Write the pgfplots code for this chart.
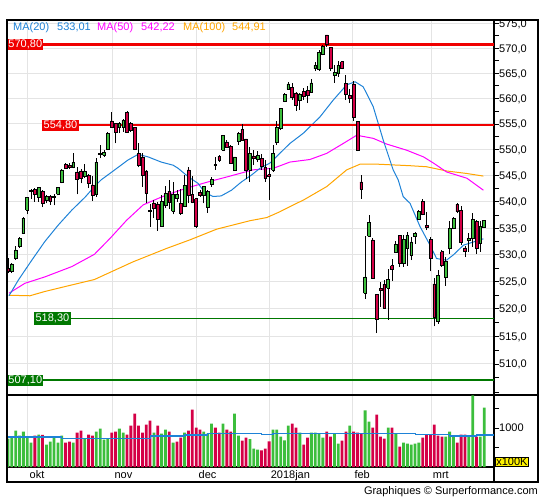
\documentclass[border=0pt]{standalone}
\usepackage{pgfplots}
\pgfplotsset{compat=1.18}
\usepackage{pgfplotstable}
\usepackage{fontspec}
\setmainfont{Liberation Sans}

\definecolor{cgreen}{RGB}{60,190,60}
\definecolor{cred}{RGB}{212,0,70}
\definecolor{mablue}{RGB}{30,130,215}
\definecolor{mamag}{RGB}{255,0,255}
\definecolor{maorg}{RGB}{255,165,0}
\definecolor{gridc}{RGB}{228,228,228}
\definecolor{lvred}{RGB}{240,0,0}
\definecolor{lvgreen}{RGB}{0,120,0}

% i open high low close volume(x100K) volumecolour(1 green, 0 red)
\pgfplotstableread{
i o h l c v vc
0 527.5 529.5 526.6 526.9 727 1
1 526.9 528.5 526.6 528.3 786 1
2 529.3 531.7 529.0 530.9 932 1
3 531.5 533.3 531.3 533.1 803 1
4 534.0 537.1 533.9 536.9 906 1
5 538.4 541.0 537.6 540.8 769 1
6 541.9 542.4 540.6 542.2 624 1
7 542.4 542.6 540.0 541.5 803 0
8 540.8 542.9 540.0 542.7 829 1
9 542.0 542.2 539.0 539.7 821 0
10 540.3 541.2 539.7 541.0 573 1
11 541.0 541.2 539.4 540.0 650 1
12 540.8 541.5 539.3 541.0 761 1
13 541.4 542.9 541.2 542.7 624 1
14 543.7 546.2 543.5 546.1 803 1
15 547.2 547.4 546.3 546.4 624 0
16 546.9 547.4 546.3 546.5 650 0
17 546.5 549.4 546.4 547.5 624 1
18 545.7 546.6 541.4 544.2 880 0
19 545.9 546.2 543.5 544.4 932 0
20 544.9 547.2 544.5 545.8 727 1
21 545.1 545.4 542.6 543.5 829 0
22 543.2 545.0 540.2 541.3 803 0
23 541.4 548.3 541.0 547.6 906 1
24 549.0 551.0 548.3 549.2 983 1
25 548.9 550.0 548.6 549.4 701 1
26 550.1 553.5 549.9 553.2 727 1
27 555.6 557.3 554.2 554.3 880 0
28 555.1 555.2 551.2 553.4 906 0
29 554.4 555.4 553.2 555.1 983 1
30 554.4 555.9 553.4 555.7 880 1
31 557.3 557.6 553.3 553.4 829 0
32 555.1 555.4 553.4 553.8 1060 0
33 554.4 554.5 549.9 550.1 1368 0
34 549.3 551.2 546.6 547.0 1060 0
35 548.6 549.3 542.9 545.1 880 0
36 545.9 546.0 539.8 541.6 1085 0
37 538.4 539.6 535.3 538.1 1188 0
38 539.8 540.3 536.9 538.8 880 1
39 539.6 540.0 534.5 536.6 1060 0
40 535.4 541.2 535.3 540.0 855 1
41 539.4 543.1 538.8 541.6 957 1
42 542.0 544.1 538.6 539.9 906 0
43 538.2 543.8 537.6 541.4 624 1
44 540.6 542.2 540.0 541.4 650 0
45 539.7 542.5 537.5 537.8 752 0
46 539.1 545.1 539.0 543.1 880 1
47 546.1 546.6 539.7 541.3 932 0
48 541.4 545.0 539.7 539.9 1470 0
49 540.6 540.7 535.0 535.3 1009 0
50 541.8 542.2 541.0 541.3 957 0
51 541.3 543.1 539.7 542.9 906 1
52 539.0 542.2 537.9 541.9 855 1
53 543.3 544.8 542.9 544.3 1111 1
54 546.9 548.6 546.1 547.1 1009 0
55 548.7 549.0 547.7 548.0 880 0
56 549.9 552.9 549.7 552.8 1111 1
57 551.5 551.9 550.3 550.5 957 0
58 550.7 551.0 547.4 547.4 906 0
59 546.1 548.6 545.9 548.6 1368 1
60 551.6 553.5 551.0 553.2 803 1
61 553.9 555.0 551.9 551.9 675 0
62 552.1 552.1 544.3 546.1 752 0
63 546.1 550.6 543.8 549.3 718 1
64 548.8 550.0 547.0 548.3 470 1
65 548.1 549.7 547.6 548.9 444 1
66 548.3 549.1 546.1 546.8 427 0
67 546.6 548.0 543.8 544.5 470 0
68 545.2 546.5 540.3 544.8 658 0
69 546.1 551.0 545.7 549.2 957 1
70 551.4 555.5 551.0 554.3 957 1
71 554.2 558.1 553.8 558.0 778 1
72 559.5 561.1 559.3 560.8 684 1
73 561.8 563.3 561.7 562.9 1060 1
74 562.2 563.1 559.7 560.2 1111 0
75 561.1 561.3 557.6 558.7 1009 0
76 559.7 561.1 557.7 560.9 880 1
77 561.4 562.0 559.7 560.5 573 0
78 561.6 562.5 559.1 560.7 752 0
79 561.3 563.8 561.1 563.1 880 1
80 565.9 567.2 565.4 566.6 880 1
81 565.7 569.7 565.4 569.1 855 1
82 568.8 570.7 568.6 570.3 752 1
83 572.7 572.7 570.3 570.7 906 0
84 570.2 570.3 565.4 566.0 778 0
85 564.6 566.6 563.1 565.1 855 1
86 564.9 567.4 564.3 566.6 598 1
87 567.3 567.5 565.8 566.0 675 0
88 563.0 564.6 559.8 560.8 906 0
89 560.6 561.8 559.1 560.0 1060 1
90 562.9 563.5 555.6 556.4 906 0
91 555.5 555.6 549.7 549.9 880 0
92 543.8 545.1 540.6 542.4 855 0
93 522.9 533.5 521.9 525.9 1453 1
94 533.5 537.5 533.4 536.1 1162 1
95 532.8 533.1 525.6 525.7 1009 0
96 522.7 522.7 515.6 518.1 1342 0
97 523.7 525.0 520.4 523.4 778 0
98 524.5 525.3 520.1 520.2 727 0
99 523.8 527.3 518.0 525.4 1009 1
100 528.0 529.2 525.2 527.4 1009 0
101 530.4 532.6 530.3 532.0 855 1
102 533.7 533.7 527.7 528.5 521 0
103 528.4 533.7 527.8 532.9 624 1
104 531.2 534.3 528.0 533.7 598 1
105 530.0 533.4 529.0 532.4 573 1
106 533.4 534.3 532.1 534.0 598 1
107 536.7 538.4 536.5 538.2 624 1
108 540.1 540.5 537.4 537.7 752 0
109 535.6 538.0 534.6 535.2 829 0
110 532.9 533.4 526.9 529.3 829 0
111 524.6 525.6 516.8 518.5 1085 0
112 517.7 527.2 517.3 526.2 803 0
113 530.6 530.9 527.8 528.0 778 0
114 525.8 529.6 524.3 528.7 778 1
115 531.2 536.3 530.2 535.0 906 1
116 535.0 537.2 534.8 536.9 778 1
117 539.5 539.7 537.8 538.1 624 0
118 538.4 539.1 531.8 532.3 829 0
119 531.3 531.7 529.6 530.6 829 0
120 532.7 534.1 530.6 533.1 778 1
121 533.1 537.8 531.5 536.7 1838 1
122 536.3 536.6 530.2 531.3 778 0
123 532.2 536.3 530.6 535.3 778 1
124 535.1 536.6 535.1 536.4 1521 1
}\candles

\pgfplotstableread{
i p
0.26 522.4
2.7 525.3
6.2 529.0
9.6 532.5
13.1 535.6
16.6 538.4
20.1 540.9
22.5 542.9
24.3 544.2
27.8 546.1
31.25 548.0
33.9 549.1
36.5 548.6
39.9 547.6
43.0 547.0
44.3 546.4
46.9 544.8
49.5 543.5
51.2 541.8
53.4 541.0
55.5 541.1
58.2 542.2
60.8 543.8
63.4 545.1
65.6 546.4
68.2 547.4
73.4 551.2
76.9 553.2
81.25 556.4
84.7 559.7
88.2 562.7
90.4 563.3
92.5 562.3
95.1 558.4
97.7 551.9
100.3 546.1
101.6 544.2
102.9 541.0
104.7 539.7
107.3 535.3
109.9 531.8
111.6 529.3
114.2 529.0
116.0 530.0
118.6 531.8
121.2 532.4
123.8 533.0
}\maA

\pgfplotstableread{
i p
0.3 522.9
4.4 524.7
9.6 525.9
16.6 527.8
22.5 530.1
26.6 533.1
30.9 536.5
35.2 539.4
38.7 540.5
41.3 541.3
46.5 542.6
52.1 543.8
57.3 544.8
63.8 546.1
69.1 546.4
73.4 547.6
78.6 548.1
83.0 549.3
87.3 551.2
90.8 552.8
95.1 552.2
98.6 551.1
103.8 549.9
108.2 548.6
110.8 547.4
114.2 545.7
119.5 544.5
123.8 542.2
}\maB

\pgfplotstableread{
i p
0.3 522.5
5.7 522.4
9.6 523.2
16.6 524.4
22.5 525.4
32.6 528.7
41.3 531.2
47.4 532.8
54.3 534.8
63.0 536.4
67.4 537.0
70.8 538.1
74.3 539.4
76.9 540.3
83.0 542.9
88.2 546.1
91.7 547.2
96.0 547.2
104.7 546.9
109.0 546.7
114.2 545.9
119.5 545.4
123.8 544.9
}\maC

\pgfplotstableread{
i v
-0.26 769
14 735
37 795
46 821
52 855
66 829
69 855
106 829
115 795
122 821
126.56 821
}\volma

\newcommand\lbl{\fontsize{11}{13}\selectfont}

\begin{document}
\begin{tikzpicture}[x=1pt,y=1pt]
\path[use as bounding box] (0,0) rectangle (545,-500);

\begin{axis}[
  at={(7pt,-20pt)}, anchor=north west,
  scale only axis, width=487pt, height=375pt,
  xmin=-0.26, xmax=126.56,
  y coord trafo/.code={\pgfmathparse{1000*ln(#1/500)}},
  y coord inv trafo/.code={\pgfmathparse{500*exp(#1/1000)}},
  ymin=504.45, ymax=575.7,
  axis line style={black, line width=1.2pt},
  xtick={5.2,27.3,49.2,68,89.8,110.2}, xticklabels={},
  xtick style={draw=none},
  xmajorgrids, ymajorgrids,
  major grid style={gridc, line width=1pt},
  ytick={510,515,520,525,530,535,540,545,550,555,560,565,570,575},
  yticklabels={{510,0},{515,0},{520,0},{525,0},{530,0},{535,0},{540,0},{545,0},{550,0},{555,0},{560,0},{565,0},{570,0},{575,0}},
  minor ytick={505,507.5,512.5,517.5,522.5,527.5,532.5,537.5,542.5,547.5,552.5,557.5,562.5,567.5,572.5},
  ytick pos=right, yticklabel pos=right,
  tick align=outside, major tick length=5pt, minor tick length=5pt,
  ytick style={black, line width=0.8pt},
  yticklabel style={font=\lbl, anchor=base west, inner sep=0pt, yshift=-3.9pt},
]
\addplot[maorg, line width=1pt] table[x=i,y=p] {\maC};
\addplot[mamag, line width=1pt] table[x=i,y=p] {\maB};
\addplot[mablue, line width=1pt] table[x=i,y=p] {\maA};

\addplot[lvred, line width=2.4pt] coordinates {(-0.26,570.8) (126.56,570.8)};
\addplot[lvred, line width=1.4pt] coordinates {(8.9,554.8) (126.56,554.8)};
\addplot[lvgreen, line width=1pt] coordinates {(6.8,518.3) (126.56,518.3)};
\addplot[lvgreen, line width=2.4pt] coordinates {(-0.26,507.1) (126.56,507.1)};

\pgfplotstablegetrowsof{\candles}
\pgfmathtruncatemacro\lastrow{\pgfplotsretval-1}
\pgfplotsforeachungrouped \rr in {0,...,\lastrow}{%
  \pgfplotstablegetelem{\rr}{i}\of\candles\let\kI\pgfplotsretval
  \pgfplotstablegetelem{\rr}{o}\of\candles\let\kO\pgfplotsretval
  \pgfplotstablegetelem{\rr}{h}\of\candles\let\kH\pgfplotsretval
  \pgfplotstablegetelem{\rr}{l}\of\candles\let\kL\pgfplotsretval
  \pgfplotstablegetelem{\rr}{c}\of\candles\let\kC\pgfplotsretval
  \pgfmathsetmacro\kXa{\kI-0.365}%
  \pgfmathsetmacro\kXb{\kI+0.365}%
  \ifdim\kC pt<\kO pt\def\kF{cred}\else\def\kF{cgreen}\fi
  \edef\kTmp{%
    \noexpand\addplot[black,line width=0.9pt] coordinates {(\kI,\kL) (\kI,\kH)};
    \noexpand\addplot[draw=black,line width=0.6pt,fill=\kF] coordinates {(\kXa,\kO) (\kXb,\kO) (\kXb,\kC) (\kXa,\kC) (\kXa,\kO)};
  }%
  \kTmp
}

\node[fill=lvred, text=white, anchor=west, inner xsep=1.3pt, inner ysep=0pt, minimum height=11pt, font=\lbl] at (axis cs:-0.26,570.8) {570,80};
\node[fill=lvred, text=white, anchor=west, inner xsep=1.3pt, inner ysep=0pt, minimum height=11pt, font=\lbl] at (axis cs:8.9,554.8) {554,80};
\node[fill=lvgreen, text=white, anchor=west, inner xsep=1.3pt, inner ysep=0pt, minimum height=13pt, font=\lbl] at (axis cs:6.8,518.3) {518,30};
\node[fill=lvgreen, text=white, anchor=west, inner xsep=1.3pt, inner ysep=0pt, minimum height=11pt, font=\lbl] at (axis cs:-0.26,507.1) {507,10};
\end{axis}

\begin{axis}[
  at={(7pt,-395pt)}, anchor=north west,
  scale only axis, width=487pt, height=72pt,
  xmin=-0.26, xmax=126.56, ymin=0, ymax=1846,
  axis line style={black, line width=1.2pt},
  xtick={5.2,27.3,49.2,68,89.8,110.2},
  xticklabels={okt,nov,dec,2018jan,feb,mrt},
  xtick style={draw=none},
  xmajorgrids, major grid style={gridc, line width=1pt},
  xticklabel style={font=\lbl, anchor=base west, inner sep=0pt, xshift=1.5pt, yshift=-6pt},
  ytick={500,1000,1500}, yticklabels={,1000,},
  ytick pos=right, yticklabel pos=right,
  tick align=outside, major tick length=5pt,
  ytick style={black, line width=0.8pt},
  yticklabel style={font=\lbl, anchor=base west, inner sep=0pt, yshift=-3.9pt},
]
\addplot[ybar, bar width=2.8pt, bar shift=0pt, fill=cgreen, draw=none] table[x=i, y expr={\thisrow{vc}*\thisrow{v}}] {\candles};
\addplot[ybar, bar width=2.8pt, bar shift=0pt, fill=cred, draw=none] table[x=i, y expr={(1-\thisrow{vc})*\thisrow{v}}] {\candles};
\addplot[const plot, mablue, line width=1.1pt] table[x=i,y=v] {\volma};
\end{axis}

\draw[line width=1.2pt] (7,-20) -- (538,-20) -- (538,-482) -- (7,-482) -- cycle;
\draw[line width=1.2pt] (494,-467) -- (494,-482);
\draw[line width=1.2pt] (494,-395) -- (538,-395);

\node[fill=yellow, draw=black, line width=0.6pt, anchor=north west, inner xsep=1pt, inner ysep=0.5pt, text height=7.9pt, text depth=0pt, font=\lbl] at (495,-457) {x100K};

\node[anchor=base west, text=mablue, font=\lbl, inner sep=0pt] at (13,-31) {MA(20)};
\node[anchor=base west, text=mablue, font=\lbl, inner sep=0pt] at (57,-31) {533,01};
\node[anchor=base west, text=mamag, font=\lbl, inner sep=0pt] at (97,-31) {MA(50)};
\node[anchor=base west, text=mamag, font=\lbl, inner sep=0pt] at (141,-31) {542,22};
\node[anchor=base west, text=maorg, font=\lbl, inner sep=0pt] at (183,-31) {MA(100)};
\node[anchor=base west, text=maorg, font=\lbl, inner sep=0pt] at (232,-31) {544,91};

\node[anchor=base east, font=\lbl, inner sep=0pt] at (538,-494.5) {Graphiques © Surperformance.com};
\end{tikzpicture}
\end{document}
